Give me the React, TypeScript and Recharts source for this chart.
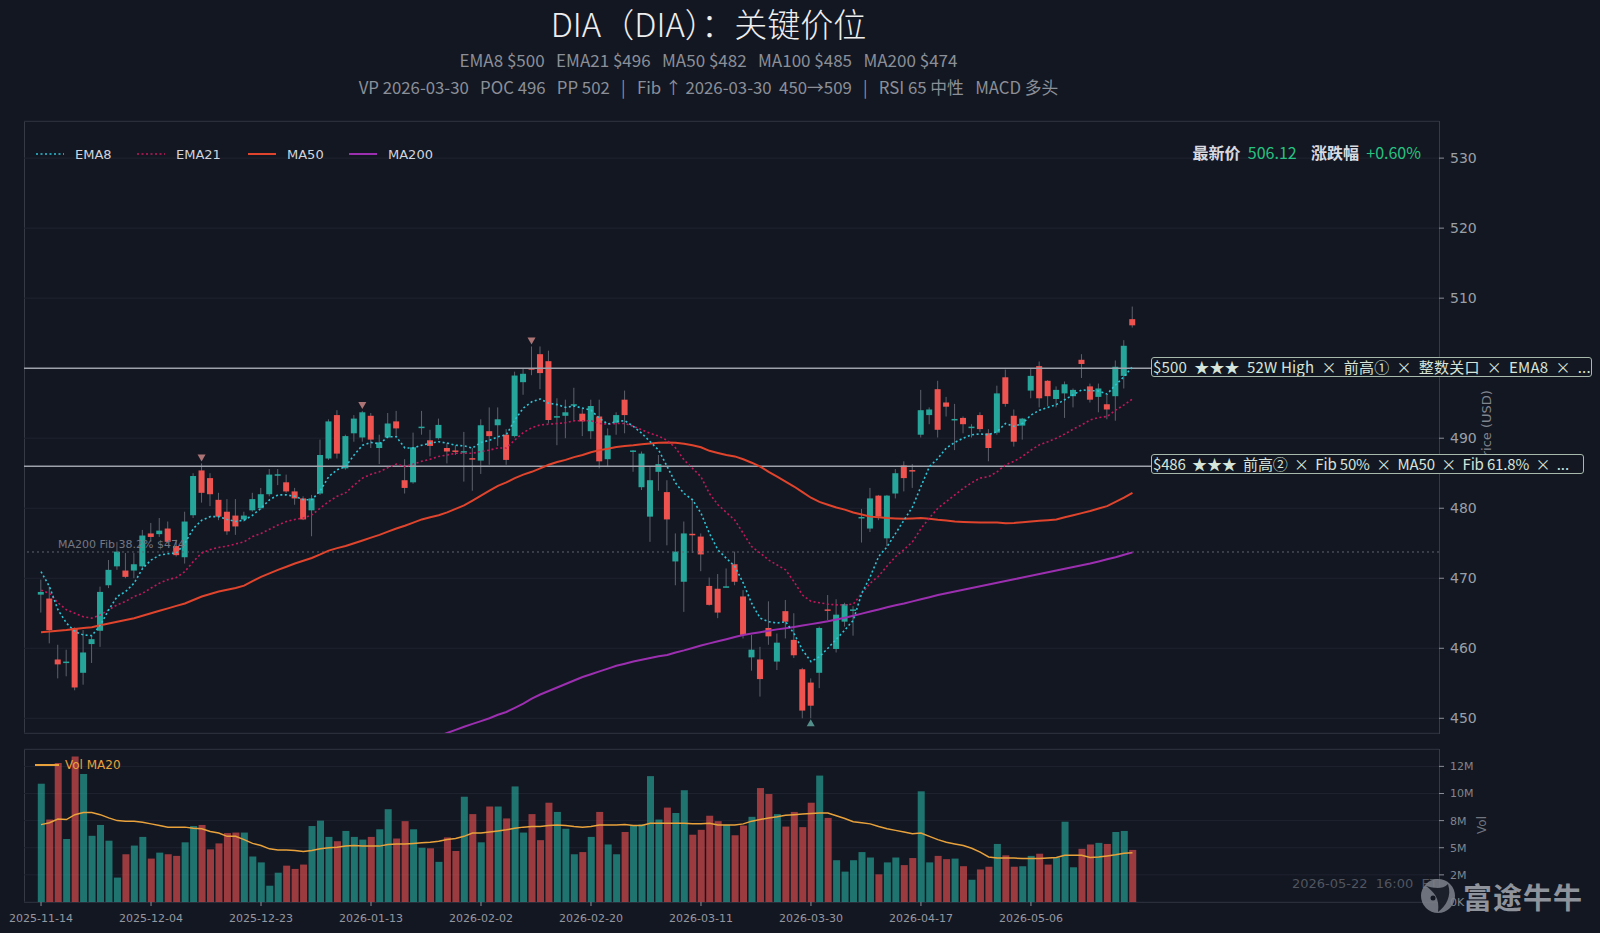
import React from 'react';
import { ComposedChart, Bar, Line, XAxis, YAxis, CartesianGrid, ReferenceLine, Cell } from 'recharts';

const BG = '#131722';
const FRAME = '#363a45';
const GRID = '#1f2330';
const UP = '#26a69a';
const DOWN = '#ef5350';
const WICK = '#5d616b';
const CJK = '"Noto Sans CJK SC", "Noto Sans", sans-serif';
const DJ = '"DejaVu Sans", sans-serif';

// x axis: one category per trading day, labels every 13 sessions
const tickIdx = [0, 13, 26, 39, 52, 65, 78, 91, 104, 117];
const tickLabels = ['2025-11-14', '2025-12-04', '2025-12-23', '2026-01-13', '2026-02-02', '2026-02-20', '2026-03-11', '2026-03-30', '2026-04-17', '2026-05-06'];
// the 500 label sits under the $500 level box
const priceTicks = [450, 460, 470, 480, 490, 510, 520, 530];
const volTicks = [0, 2.5, 5, 7.5, 10, 12.5];
const volTickLabels = ['0K', '2M', '5M', '8M', '10M', '12M'];

const opens = [
  467.66, 467.1, 458.4, 457.9, 462.9, 456.5, 460.6, 462.5, 469.0, 471.7,
  471.1, 471.1, 471.7, 476.4, 476.3, 477.1, 474.6, 473.0, 479.0, 485.4,
  484.3, 481.2, 479.5, 478.95, 478.4, 479.7, 480.0, 482.0, 484.75, 483.7,
  482.4, 481.4, 479.7, 482.1, 487.1, 493.3, 485.7, 490.7, 490.1, 493.2,
  488.6, 490.1, 492.4, 484.0, 483.7, 491.55, 489.7, 490.0, 488.6, 488.25,
  488.05, 487.15, 486.8, 491.0, 491.85, 490.5, 490.3, 498.0, 500.0, 502.0,
  501.0, 493.05, 493.2, 494.75, 493.5, 491.0, 493.1, 487.0, 492.2, 495.5,
  488.15, 483.0, 478.8, 485.2, 482.3, 472.4, 469.5, 476.35, 475.95, 468.9,
  468.5, 468.75, 472.0, 467.4, 458.7, 458.4, 462.9, 458.1, 465.3, 461.2,
  457.0, 455.1, 456.5, 465.55, 459.9, 463.8, 465.45, 478.65, 477.1, 481.8,
  475.7, 482.1, 486.1, 485.45, 490.5, 493.3, 497.0, 495.1, 492.65, 492.9,
  491.55, 493.3, 490.7, 490.8, 498.7, 493.2, 491.8, 496.8, 500.3, 498.2,
  495.6, 496.4, 496.0, 501.2, 497.4, 495.9, 494.85, 496.0, 498.9, 507.0,
];
const highs = [
  469.8, 468.8, 460.5, 459.8, 463.0, 462.6, 461.9, 468.8, 472.6, 475.2,
  473.6, 473.6, 476.9, 477.9, 478.6, 478.1, 475.5, 479.5, 485.0, 486.4,
  485.0, 482.2, 481.3, 481.3, 479.5, 482.2, 482.9, 485.6, 485.6, 484.8,
  482.9, 481.7, 481.9, 489.8, 492.7, 494.0, 490.5, 493.3, 493.9, 493.6,
  490.5, 493.6, 493.9, 487.0, 490.8, 493.9, 491.2, 492.8, 489.3, 489.0,
  490.9, 488.6, 492.7, 494.4, 494.4, 491.3, 499.5, 500.0, 503.1, 503.1,
  502.5, 495.7, 495.5, 497.2, 494.3, 495.5, 495.5, 491.4, 493.7, 496.8,
  488.3, 488.1, 485.9, 487.6, 484.0, 476.4, 478.1, 481.4, 476.4, 470.1,
  470.6, 471.4, 473.8, 468.3, 461.9, 460.2, 466.7, 462.1, 466.9, 465.0,
  457.2, 455.7, 463.1, 467.6, 467.0, 466.5, 466.0, 479.9, 482.9, 481.9,
  481.9, 485.6, 486.7, 486.3, 496.9, 494.4, 498.2, 495.9, 494.9, 493.1,
  492.0, 493.7, 491.3, 497.5, 499.8, 494.1, 492.9, 499.9, 500.95, 498.3,
  497.4, 498.1, 497.1, 502.0, 497.8, 497.8, 496.2, 501.1, 504.0, 508.8,
];
const lows = [
  465.1, 460.7, 455.7, 456.0, 454.0, 454.8, 457.9, 460.2, 468.6, 471.2,
  470.0, 470.0, 471.4, 475.2, 475.9, 475.0, 473.1, 472.1, 478.6, 480.8,
  480.3, 478.3, 476.2, 476.2, 478.1, 479.5, 479.8, 481.7, 483.3, 482.2,
  480.5, 478.3, 476.0, 481.9, 486.9, 487.1, 485.5, 489.5, 489.5, 488.6,
  486.3, 490.0, 490.2, 482.1, 483.5, 490.5, 487.4, 489.8, 486.4, 487.6,
  483.8, 482.5, 484.9, 486.2, 488.9, 486.2, 490.1, 496.2, 499.0, 497.0,
  492.1, 489.0, 490.0, 492.4, 490.3, 489.9, 485.7, 485.9, 490.5, 490.7,
  485.2, 482.6, 475.2, 482.5, 474.7, 469.0, 465.2, 473.6, 471.0, 466.1,
  464.3, 468.7, 469.0, 461.4, 456.8, 453.1, 460.5, 456.9, 461.4, 458.6,
  450.0, 450.0, 454.3, 464.0, 459.4, 463.1, 461.8, 475.1, 476.6, 478.3,
  474.6, 481.4, 482.4, 482.9, 490.1, 492.0, 490.1, 493.1, 488.3, 490.7,
  490.1, 490.9, 486.7, 490.5, 494.5, 488.8, 489.8, 495.7, 494.4, 494.6,
  494.4, 492.9, 494.4, 498.6, 495.1, 493.7, 492.7, 492.5, 497.1, 505.8,
];
const closes = [
  468.04, 462.6, 457.7, 458.1, 454.4, 459.4, 461.3, 468.05, 471.2, 473.8,
  470.2, 472.0, 476.1, 475.9, 476.8, 475.2, 473.3, 478.1, 484.6, 482.2,
  482.0, 478.8, 476.7, 477.4, 478.95, 481.3, 482.0, 484.8, 484.85, 482.4,
  481.4, 478.4, 481.4, 487.6, 492.4, 487.8, 490.3, 492.8, 493.7, 489.8,
  489.4, 492.1, 491.4, 482.9, 488.7, 491.65, 488.9, 491.9, 488.1, 488.15,
  488.15, 487.05, 491.85, 490.3, 492.7, 486.9, 498.95, 499.2, 499.9, 499.3,
  492.6, 493.15, 493.7, 494.85, 492.4, 494.6, 486.7, 490.4, 493.3, 493.3,
  488.25, 487.8, 484.0, 486.3, 478.4, 473.8, 476.4, 476.25, 473.4, 466.2,
  465.1, 468.85, 469.5, 461.9, 459.8, 455.6, 461.7, 460.8, 463.8, 459.0,
  451.1, 451.8, 462.9, 465.45, 464.8, 466.3, 465.55, 478.75, 481.4, 478.8,
  481.8, 485.0, 484.3, 485.35, 494.0, 494.1, 491.2, 494.5, 492.75, 492.0,
  491.65, 491.3, 488.6, 496.4, 494.9, 489.5, 492.8, 498.9, 495.7, 496.0,
  496.9, 497.7, 496.9, 500.6, 495.5, 497.1, 494.1, 500.2, 503.2, 506.12,
];
// volume in millions of shares
const volumes = [
  10.9, 7.6, 12.8, 5.8, 13.4, 11.8, 6.1, 7.1, 5.65, 2.25,
  4.4, 5.2, 6.0, 4.0, 4.55, 4.4, 4.25, 5.5, 7.0, 7.1,
  4.85, 5.4, 6.35, 6.4, 6.4, 4.2, 3.65, 1.5, 2.7, 3.35,
  3.05, 3.45, 7.0, 7.5, 6.0, 5.6, 6.55, 6.0, 5.75, 6.0,
  6.7, 8.55, 5.85, 7.45, 6.7, 5.0, 4.95, 3.7, 5.95, 4.7,
  9.7, 8.1, 5.5, 8.8, 8.8, 7.7, 10.65, 6.4, 8.1, 5.7,
  9.15, 8.3, 6.75, 4.4, 4.6, 6.0, 8.3, 5.3, 4.4, 6.45,
  7.1, 7.15, 11.6, 7.6, 8.7, 8.2, 10.3, 6.2, 6.65, 7.95,
  7.45, 7.1, 6.15, 7.05, 7.85, 10.5, 9.95, 8.1, 6.95, 8.3,
  6.9, 9.15, 11.65, 7.75, 3.85, 2.8, 3.85, 4.6, 4.1, 2.55,
  3.65, 4.1, 3.4, 4.05, 10.2, 3.65, 4.25, 3.95, 4.0, 3.3,
  2.05, 3.0, 3.25, 5.35, 4.3, 3.25, 3.3, 4.25, 4.45, 3.45,
  4.1, 7.4, 3.2, 4.9, 5.3, 5.45, 5.35, 6.45, 6.55, 4.8,
];
const volMa20 = [
  7.13, 7.3, 7.65, 7.6, 8.05, 8.25, 8.25, 8.05, 7.75, 7.5,
  7.45, 7.45, 7.35, 7.2, 7.05, 6.9, 6.9, 6.9, 6.8, 6.75,
  6.5, 6.35, 6.05, 6.05, 5.75, 5.4, 5.2, 4.9, 4.8, 4.8,
  4.75, 4.65, 4.75, 4.9, 5.0, 5.05, 5.15, 5.2, 5.15, 5.15,
  5.15, 5.3, 5.35, 5.35, 5.4, 5.45, 5.5, 5.6, 5.75, 5.85,
  6.05, 6.35, 6.35, 6.45, 6.55, 6.65, 6.8, 6.9, 6.95, 6.95,
  7.05, 7.1, 7.05, 6.95, 6.9, 6.95, 7.1, 7.1, 7.1, 7.15,
  7.05, 7.05, 7.25, 7.25, 7.25, 7.25, 7.25, 7.2, 7.2, 7.25,
  7.1, 7.1, 7.1, 7.2, 7.45, 7.6, 7.75, 7.85, 8.0, 8.05,
  8.1, 8.15, 8.2, 8.2, 7.95, 7.7, 7.4, 7.3, 7.2, 6.95,
  6.75, 6.6, 6.45, 6.3, 6.35, 6.05, 5.75, 5.5, 5.35, 5.2,
  4.95, 4.6, 4.15, 4.05, 4.05, 4.05, 4.0, 4.0, 4.0, 4.05,
  4.1, 4.3, 4.3, 4.3, 4.1, 4.15, 4.25, 4.35, 4.5, 4.55,
];
const ema8 = [
  470.95, 468.8, 465.5, 463.6, 462.4, 461.9, 461.8, 463.3, 465.5, 467.4,
  468.1, 469.3, 471.4, 472.6, 473.3, 473.5, 473.6, 475.0, 477.1, 478.3,
  478.8, 478.8, 478.4, 478.1, 478.3, 479.0, 480.0, 481.2, 481.9, 481.9,
  481.7, 481.2, 481.2, 482.5, 484.5, 485.5, 485.95, 487.6, 489.0, 489.4,
  489.2, 490.2, 490.2, 488.6, 488.6, 489.0, 489.3, 489.5, 489.3, 489.0,
  488.9, 488.6, 489.4, 489.7, 490.2, 490.5, 492.6, 494.3, 495.2, 495.6,
  495.0, 494.8, 494.4, 494.6, 494.3, 494.0, 492.85, 492.0, 492.4, 492.5,
  491.7, 490.7, 489.5, 488.3, 485.95, 483.6, 482.1, 481.2, 479.3, 476.4,
  474.05, 472.85, 471.7, 469.3, 466.4, 464.3, 463.8, 463.6, 463.8, 462.1,
  459.75, 458.1, 458.8, 460.0, 461.3, 462.6, 464.0, 467.85, 470.2, 473.1,
  474.5, 476.4, 478.3, 480.2, 483.1, 485.95, 487.1, 488.6, 489.4, 490.0,
  490.5, 490.6, 490.5, 490.95, 492.1, 491.7, 492.1, 493.3, 494.0, 494.4,
  494.8, 495.5, 496.2, 496.9, 496.8, 496.75, 496.3, 497.6, 498.8, 500.2,
];
const ema21 = [
  468.3, 467.85, 466.5, 465.5, 465.0, 464.5, 464.3, 464.75, 465.5, 466.2,
  466.7, 467.4, 467.85, 468.6, 469.3, 469.8, 470.1, 470.95, 472.4, 473.6,
  474.1, 474.4, 474.6, 474.9, 475.2, 475.95, 476.4, 477.0, 477.6, 478.1,
  478.4, 478.6, 479.05, 480.0, 480.95, 481.7, 482.2, 483.3, 484.3, 484.85,
  485.2, 485.8, 486.3, 485.95, 486.3, 486.7, 487.0, 487.4, 487.6, 487.85,
  487.85, 487.85, 488.1, 488.3, 488.6, 488.6, 489.75, 490.8, 491.5, 491.9,
  492.0, 492.1, 492.2, 492.5, 492.5, 492.5, 492.1, 492.0, 492.1, 492.1,
  491.7, 491.2, 490.7, 490.3, 489.7, 488.6, 486.9, 485.7, 484.5, 482.1,
  480.5, 479.4, 478.3, 476.4, 474.5, 473.6, 472.6, 471.9, 471.2, 469.5,
  467.6, 466.7, 466.5, 466.3, 466.2, 466.2, 466.3, 467.85, 469.3, 470.3,
  471.75, 473.1, 474.1, 475.2, 477.1, 478.6, 480.0, 480.95, 481.9, 482.85,
  483.65, 484.3, 484.5, 485.2, 486.2, 486.7, 487.4, 488.3, 489.05, 489.5,
  490.0, 490.6, 491.3, 491.9, 492.6, 492.95, 493.1, 494.0, 494.75, 495.6,
];
const ma50 = [
  462.3, 462.4, 462.5, 462.6, 462.75, 462.9, 463.0, 463.3, 463.55, 463.8,
  464.05, 464.3, 464.65, 465.0, 465.35, 465.7, 466.05, 466.4, 466.9, 467.4,
  467.75, 468.1, 468.35, 468.6, 468.95, 469.6, 470.2, 470.7, 471.2, 471.65,
  472.1, 472.5, 472.9, 473.4, 473.95, 474.3, 474.6, 475.0, 475.4, 475.8,
  476.2, 476.65, 477.1, 477.5, 477.95, 478.4, 478.7, 479.0, 479.4, 479.9,
  480.4, 481.1, 481.8, 482.5, 483.2, 483.7, 484.3, 484.8, 485.2, 485.7,
  486.2, 486.6, 486.9, 487.3, 487.6, 488.0, 488.3, 488.5, 488.75, 488.9,
  489.0, 489.15, 489.25, 489.35, 489.4, 489.35, 489.2, 489.0, 488.7, 488.2,
  487.9, 487.6, 487.4, 487.0, 486.5, 485.95, 485.2, 484.5, 483.8, 483.1,
  482.3, 481.5, 480.9, 480.5, 480.1, 479.8, 479.4, 479.1, 478.8, 478.7,
  478.6, 478.55, 478.5, 478.55, 478.6, 478.5, 478.35, 478.25, 478.1, 478.05,
  478.0, 477.95, 477.95, 477.95, 477.85, 477.9, 478.0, 478.1, 478.2, 478.3,
  478.4, 478.7, 479.0, 479.3, 479.6, 479.95, 480.3, 480.9, 481.5, 482.2,
];
// MA200 only reaches the visible price range from the 47th session on
const ma200 = [
  null, null, null, null, null, null, null, null, null, null,
  null, null, null, null, null, null, null, null, null, null,
  null, null, null, null, null, null, null, null, null, null,
  null, null, null, null, null, null, null, null, null, null,
  null, null, null, null, null, null, 447.0, 447.45, 447.9, 448.35,
  448.8, 449.2, 449.6, 450.0, 450.5, 450.9, 451.5, 452.1, 452.8, 453.4,
  453.9, 454.4, 454.9, 455.4, 455.9, 456.3, 456.7, 457.1, 457.5, 457.8,
  458.1, 458.35, 458.6, 458.85, 459.05, 459.4, 459.7, 460.05, 460.4, 460.7,
  461.0, 461.3, 461.6, 461.9, 462.1, 462.3, 462.5, 462.7, 462.85, 463.05,
  463.25, 463.45, 463.65, 463.85, 464.1, 464.35, 464.65, 464.95, 465.25, 465.55,
  465.85, 466.15, 466.4, 466.7, 467.0, 467.3, 467.6, 467.85, 468.1, 468.35,
  468.6, 468.85, 469.1, 469.35, 469.6, 469.85, 470.1, 470.35, 470.6, 470.85,
  471.1, 471.35, 471.6, 471.85, 472.1, 472.4, 472.7, 473.0, 473.35, 473.7,
];
const pivotHighs = [19, 38, 58];
const pivotLows = [91];

const rows = closes.map((c, i) => ({
  i,
  o: opens[i],
  h: highs[i],
  l: lows[i],
  c,
  range: [lows[i], highs[i]],
  vol: volumes[i],
  volMa: volMa20[i],
  ema8: ema8[i],
  ema21: ema21[i],
  ma50: ma50[i],
  ma200: ma200[i],
  mark: pivotHighs.includes(i) ? 'H' : pivotLows.includes(i) ? 'L' : '',
}));

// category band geometry: plot area 24..1439, first session centred at x=41
const X_PAD = { left: 12.8, right: 302.3 };

function Candle(props: any) {
  const { x, y, width, height, payload } = props;
  const top0 = Math.min(y, y + height);
  const hgt = Math.abs(height);
  const { o, h, l, c, mark } = payload;
  const span = h - l || 1;
  const py = (v: number) => top0 + ((h - v) / span) * hgt;
  const cx = x + width / 2;
  const up = c >= o;
  const bt = py(Math.max(o, c));
  const bb = py(Math.min(o, c));
  const bh = Math.max(1.5, bb - bt);
  return (
    <g>
      <line x1={cx} x2={cx} y1={top0} y2={top0 + hgt} stroke={WICK} strokeWidth={1} />
      <rect x={x} y={bt} width={width} height={bh} fill={up ? UP : DOWN} />
      {mark === 'H' && (
        <path d={`M${cx - 4},${top0 - 9} L${cx + 4},${top0 - 9} L${cx},${top0 - 2} Z`} fill="#c98585" fillOpacity={0.85} />
      )}
      {mark === 'L' && (
        <path d={`M${cx - 4},${top0 + hgt + 8} L${cx + 4},${top0 + hgt + 8} L${cx},${top0 + hgt + 1} Z`} fill="#5fa39c" fillOpacity={0.85} />
      )}
    </g>
  );
}

function LegendSwatch({ color, dash, w = 28 }: { color: string; dash?: string; w?: number }) {
  return (
    <svg width={w} height={6} style={{ display: 'block' }}>
      <line x1={0} x2={w} y1={3} y2={3} stroke={color} strokeWidth={dash ? 1.6 : 2} strokeDasharray={dash} />
    </svg>
  );
}

const abs = (s: React.CSSProperties): React.CSSProperties => ({ position: 'absolute', ...s });

const boxStyle: React.CSSProperties = {
  position: 'absolute',
  height: 20,
  boxSizing: 'border-box',
  border: '1.5px solid #a6b9ab',
  borderRadius: 3,
  background: BG,
  color: '#d6e4d9',
  fontSize: 15,
  fontFamily: CJK,
  lineHeight: '17px',
  whiteSpace: 'pre',
  paddingLeft: 1,
  overflow: 'hidden',
};

export default function App() {
  const legendItems = [
    { name: 'EMA8', color: '#2ec4d6', dash: '2 2.5', x: 36 },
    { name: 'EMA21', color: '#c2185b', dash: '2 2.5', x: 137 },
    { name: 'MA50', color: '#e0442c', x: 248 },
    { name: 'MA200', color: '#9c2fb0', x: 349 },
  ];
  return (
    <div style={abs({ left: 0, top: 0, width: 1600, height: 933, background: BG, overflow: 'hidden' })}>
      <div style={abs({ left: 0, top: 4, width: 1417, textAlign: 'center', color: '#eeeeee', fontSize: 33, fontWeight: 300, fontFamily: CJK, lineHeight: '38px', whiteSpace: 'nowrap' })}>
        DIA（DIA）：关键价位
      </div>
      <div style={abs({ left: 0, top: 50, width: 1417, textAlign: 'center', color: '#8b8f98', fontSize: 17, fontFamily: CJK, lineHeight: '20px', whiteSpace: 'pre' })}>
        {'EMA8 $500   EMA21 $496   MA50 $482   MA100 $485   MA200 $474'}
      </div>
      <div style={abs({ left: 0, top: 77, width: 1417, textAlign: 'center', color: '#8b8f98', fontSize: 16.8, fontFamily: CJK, lineHeight: '20px', whiteSpace: 'pre' })}>
        {'VP 2026-03-30   POC 496   PP 502   |   Fib ↑ 2026-03-30  450→509   |   RSI 65 中性   MACD 多头'}
      </div>

      <div style={abs({ left: 24, top: 121, width: 1416, height: 613, border: `1px solid ${FRAME}`, boxSizing: 'border-box' })} />
      <div style={abs({ left: 24, top: 749, width: 1416, height: 154, border: `1px solid ${FRAME}`, boxSizing: 'border-box' })} />

      <div style={abs({ left: 0, top: 0 })}>
        <ComposedChart width={1600} height={745} data={rows} margin={{ top: 121, right: 0, bottom: 12, left: 24 }}>
          <CartesianGrid stroke={GRID} vertical={false} />
          <XAxis dataKey="i" type="category" hide padding={X_PAD} />
          <YAxis
            orientation="right"
            width={161}
            domain={[447.9, 535.3]}
            ticks={priceTicks}
            allowDataOverflow
            axisLine={false}
            tickSize={5}
            tickMargin={6}
            tickLine={{ stroke: '#8a8e96' }}
            tick={{ fill: '#9aa0a8', fontSize: 14, fontFamily: DJ }}
          />
          <ReferenceLine y={473.75} stroke="#5f6470" strokeDasharray="2 3" strokeWidth={1} />
          <ReferenceLine y={500} stroke="#9ea2aa" strokeWidth={1.5} />
          <ReferenceLine y={486} stroke="#9ea2aa" strokeWidth={1.5} />
          <Bar dataKey="range" barSize={6} shape={<Candle />} isAnimationActive={false} />
          <Line dataKey="ma200" stroke="#9c2fb0" strokeWidth={2} dot={false} isAnimationActive={false} connectNulls={false} />
          <Line dataKey="ma50" stroke="#e0442c" strokeWidth={2} dot={false} isAnimationActive={false} />
          <Line dataKey="ema21" stroke="#c2185b" strokeWidth={1.6} strokeDasharray="2 2.5" dot={false} isAnimationActive={false} />
          <Line dataKey="ema8" stroke="#2ec4d6" strokeWidth={1.6} strokeDasharray="2 2.5" dot={false} isAnimationActive={false} />
        </ComposedChart>
      </div>

      <div style={abs({ left: 0, top: 740 })}>
        <ComposedChart width={1600} height={193} data={rows} margin={{ top: 9, right: 0, bottom: 1, left: 24 }}>
          <CartesianGrid stroke={GRID} vertical={false} />
          <XAxis
            dataKey="i"
            type="category"
            padding={X_PAD}
            ticks={tickIdx}
            interval={0}
            height={30}
            axisLine={false}
            tickSize={4}
            tickMargin={8}
            tickLine={{ stroke: '#8a8e96' }}
            tick={{ fill: '#9598a1', fontSize: 11, fontFamily: DJ }}
            tickFormatter={(v: number) => tickLabels[tickIdx.indexOf(v)] ?? ''}
          />
          <YAxis
            orientation="right"
            width={161}
            domain={[0, 14.1]}
            ticks={volTicks}
            axisLine={false}
            tickSize={5}
            tickMargin={6}
            tickLine={{ stroke: '#8a8e96' }}
            tick={{ fill: '#80858e', fontSize: 11, fontFamily: DJ }}
            tickFormatter={(v: number) => volTickLabels[volTicks.indexOf(v)] ?? ''}
          />
          <Bar dataKey="vol" barSize={7} isAnimationActive={false}>
            {rows.map((r) => (
              <Cell key={r.i} fill={r.c >= r.o ? 'rgba(38,166,154,0.66)' : 'rgba(239,83,80,0.62)'} />
            ))}
          </Bar>
          <Line dataKey="volMa" stroke="#e9a23b" strokeWidth={1.5} dot={false} isAnimationActive={false} />
        </ComposedChart>
      </div>

      {/* legends */}
      {legendItems.map((it) => (
        <div key={it.name} style={abs({ left: it.x, top: 145, display: 'flex', alignItems: 'center', height: 18 })}>
          <LegendSwatch color={it.color} dash={it.dash} />
          <span style={{ marginLeft: 11, color: '#d1d4dc', fontSize: 13, fontFamily: DJ }}>{it.name}</span>
        </div>
      ))}
      <div style={abs({ left: 35, top: 756, display: 'flex', alignItems: 'center', height: 18 })}>
        <LegendSwatch color="#e9a23b" w={24} />
        <span style={{ marginLeft: 6, color: '#e9a23b', fontSize: 12, fontFamily: DJ }}>Vol MA20</span>
      </div>

      <div style={abs({ left: 58, top: 538, color: '#737883', fontSize: 11, fontFamily: DJ, whiteSpace: 'pre' })}>
        {'MA200 Fib 38.2% $474'}
      </div>

      <div style={abs({ right: 179, top: 141, fontSize: 16, fontFamily: CJK, whiteSpace: 'pre', lineHeight: '22px' })}>
        <span style={{ color: '#d8dae0', fontWeight: 700 }}>最新价  </span>
        <span style={{ color: '#27c281' }}>506.12    </span>
        <span style={{ color: '#d8dae0', fontWeight: 700 }}>涨跌幅  </span>
        <span style={{ color: '#27c281' }}>+0.60%</span>
      </div>

      {/* axis titles */}
      <div style={abs({ left: 1487 - 60, top: 427 - 9, width: 120, height: 18, textAlign: 'center', transform: 'rotate(-90deg)', color: '#80858e', fontSize: 13, fontFamily: DJ, lineHeight: '18px' })}>
        Price (USD)
      </div>
      <div style={abs({ left: 1482 - 30, top: 825 - 8, width: 60, height: 16, textAlign: 'center', transform: 'rotate(-90deg)', color: '#6f747e', fontSize: 12, fontFamily: DJ, lineHeight: '16px' })}>
        Vol
      </div>

      {/* key level boxes */}
      <div style={{ ...boxStyle, left: 1151, top: 357, width: 441, letterSpacing: 0.2 }}>
        {'$500  ★★★  52W High  ×  前高①  ×  整数关口  ×  EMA8  ×  ...'}
      </div>
      <div style={{ ...boxStyle, left: 1151, top: 454, width: 433, letterSpacing: -0.15 }}>
        {'$486  ★★★  前高②  ×  Fib 50%  ×  MA50  ×  Fib 61.8%  ×  ...'}
      </div>

      {/* timestamp + watermark */}
      <div style={abs({ left: 1292, top: 876, color: '#50555f', fontSize: 13, fontFamily: DJ, whiteSpace: 'pre' })}>
        {'2026-05-22  16:00  ET'}
      </div>
      <svg style={abs({ left: 1418, top: 876 })} width={42} height={40}>
        <circle cx={20} cy={20} r={17} fill="#7e838c" fillOpacity={0.85} />
        <path d="M8,10 C16,16 22,22 20,36 C28,30 34,20 30,8 C24,14 16,12 8,10 Z" fill={BG} fillOpacity={0.9} />
        <circle cx={15} cy={22} r={2.5} fill={BG} />
      </svg>
      <div style={abs({ left: 1463, top: 877, color: '#8f939b', fontSize: 29, fontWeight: 700, fontFamily: CJK, lineHeight: '38px', letterSpacing: 1 })}>
        富途牛牛
      </div>
    </div>
  );
}
